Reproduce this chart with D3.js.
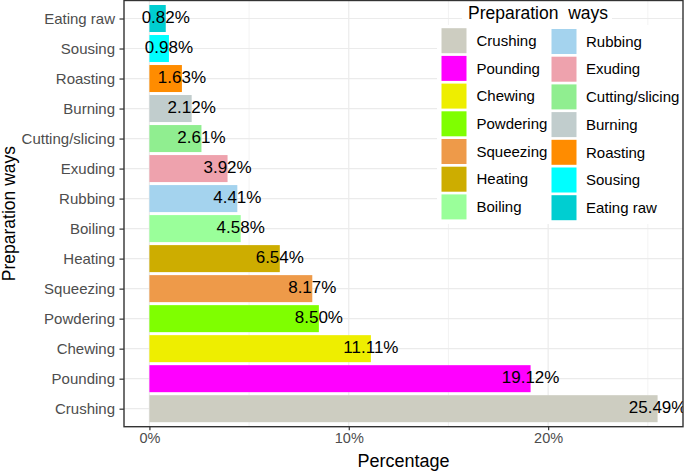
<!DOCTYPE html>
<html>
<head>
<meta charset="utf-8">
<script src="https://cdn.jsdelivr.net/npm/d3@7"></script>
<style>
  html, body { margin: 0; padding: 0; background: #fff; }
  svg { display: block; font-family: "Liberation Sans", Arial, sans-serif; }
</style>
</head>
<body>
<svg id="chart" width="685" height="473"></svg>
<script>
// Categories from top to bottom as displayed
const categories = ["Eating raw", "Sousing", "Roasting", "Burning", "Cutting/slicing", "Exuding", "Rubbing", "Boiling", "Heating", "Squeezing", "Powdering", "Chewing", "Pounding", "Crushing"];
const values = [0.82, 0.98, 1.63, 2.12, 2.61, 3.92, 4.41, 4.58, 6.54, 8.17, 8.50, 11.11, 19.12, 25.49];
const colors = ["#00CED1", "#00FFFF", "#FF8C00", "#C1CDCD", "#90EE90", "#EEA2AD", "#A4D3EE", "#9AFF9A", "#CDAD00", "#EE9A49", "#7FFF00", "#EEEE00", "#FF00FF", "#CDCDC1"];
// Legend order (two columns)
const legendOrder = ["Crushing", "Pounding", "Chewing", "Powdering", "Squeezing", "Heating", "Boiling", "Rubbing", "Exuding", "Cutting/slicing", "Burning", "Roasting", "Sousing", "Eating raw"];
const xTickValues = [0, 10, 20];
const xMinorValues = [5, 15, 25];
const xTitle = "Percentage";
const yTitle = "Preparation ways";
const legendTitle = "Preparation  ways";

const colorOf = d3.scaleOrdinal().domain(categories).range(colors);
const data = categories.map((c, i) => ({ cat: c, value: values[i] }));

const svg = d3.select("#chart");
const P = { left: 124, right: 683, top: 0.5, bottom: 426.7 };

const maxV = d3.max(values);
const ex = maxV * 0.05;
const x = d3.scaleLinear().domain([0 - ex, maxV + ex]).range([P.left, P.right]);
const y = d3.scalePoint().domain(categories).range([P.top, P.bottom]).padding(0.6);
const step = y.step();
const bh = step * 0.9;

// panel background
svg.append("rect").attr("x", P.left).attr("y", P.top).attr("width", P.right - P.left).attr("height", P.bottom - P.top).attr("fill", "#fff");

svg.append("defs").append("clipPath").attr("id", "panelClip")
  .append("rect").attr("x", P.left).attr("y", P.top).attr("width", P.right - P.left).attr("height", P.bottom - P.top);

const grid = svg.append("g");
// minor vertical
grid.selectAll("line.minor").data(xMinorValues).join("line")
  .attr("x1", d => x(d)).attr("x2", d => x(d)).attr("y1", P.top).attr("y2", P.bottom)
  .attr("stroke", "#EBEBEB").attr("stroke-width", 0.6);
// major vertical
grid.selectAll("line.majx").data(xTickValues).join("line")
  .attr("x1", d => x(d)).attr("x2", d => x(d)).attr("y1", P.top).attr("y2", P.bottom)
  .attr("stroke", "#EBEBEB").attr("stroke-width", 1.2);
// major horizontal
grid.selectAll("line.majy").data(categories).join("line")
  .attr("x1", P.left).attr("x2", P.right).attr("y1", d => y(d)).attr("y2", d => y(d))
  .attr("stroke", "#EBEBEB").attr("stroke-width", 1.2);

const plot = svg.append("g").attr("clip-path", "url(#panelClip)");
plot.selectAll("rect.bar").data(data).join("rect")
  .attr("x", x(0)).attr("y", d => y(d.cat) - bh / 2)
  .attr("width", d => x(d.value) - x(0)).attr("height", bh)
  .attr("fill", d => colorOf(d.cat));

plot.selectAll("text.lab").data(data).join("text")
  .attr("x", d => x(d.value)).attr("y", d => y(d.cat) + 4)
  .attr("text-anchor", "middle").attr("font-size", "17px").attr("fill", "#000")
  .text(d => d.value.toFixed(2) + "%");

// Legend
const lg = svg.append("g");
lg.append("rect").attr("x", 462).attr("y", 1).attr("width", 150).attr("height", 25).attr("fill", "#fff");
lg.append("rect").attr("x", 437).attr("y", 25).attr("width", P.right - 437).attr("height", 199).attr("fill", "#fff");
lg.append("text").attr("x", 468).attr("y", 19).attr("font-size", "17.5px").attr("fill", "#000")
  .style("white-space", "pre").attr("xml:space", "preserve").text(legendTitle);
const keyW = 25, keyH = 25, rowH = 27.7;
const colX = [441.5, 551.5];
const labX = [476.5, 586];
legendOrder.forEach((c, i) => {
  const col = Math.floor(i / 7), row = i % 7;
  const cy = 40.7 + row * rowH + col * 0.8;
  lg.append("rect").attr("x", colX[col]).attr("y", cy - keyH / 2).attr("width", keyW).attr("height", keyH)
    .attr("fill", colorOf(c));
  lg.append("text").attr("x", labX[col]).attr("y", cy + 5.2).attr("font-size", "15px").attr("fill", "#000").text(c);
});

// Axes
const xAxis = svg.append("g").attr("transform", `translate(0,${P.bottom})`)
  .call(d3.axisBottom(x).tickValues(xTickValues).tickFormat(d => d + "%").tickSize(3.5).tickPadding(3));
xAxis.select(".domain").remove();
xAxis.selectAll(".tick line").attr("stroke", "#333").attr("stroke-width", 1.2);
xAxis.selectAll(".tick text").attr("font-size", "14.5px").attr("fill", "#4D4D4D").attr("font-family", "Liberation Sans, Arial, sans-serif");

const yAxis = svg.append("g").attr("transform", `translate(${P.left},0)`)
  .call(d3.axisLeft(y).tickSize(4.5).tickPadding(4.5));
yAxis.select(".domain").remove();
yAxis.selectAll(".tick line").attr("stroke", "#333").attr("stroke-width", 1.2);
yAxis.selectAll(".tick text").attr("font-size", "15px").attr("fill", "#4D4D4D").attr("font-family", "Liberation Sans, Arial, sans-serif");

// Panel border
svg.append("rect").attr("x", P.left).attr("y", P.top).attr("width", P.right - P.left).attr("height", P.bottom - P.top)
  .attr("fill", "none").attr("stroke", "#333").attr("stroke-width", 1.4);

// Titles
svg.append("text").attr("x", (P.left + P.right) / 2).attr("y", 467).attr("text-anchor", "middle")
  .attr("font-size", "18px").attr("fill", "#000").text(xTitle);
svg.append("text").attr("transform", `translate(15,${(P.top + P.bottom) / 2}) rotate(-90)`).attr("text-anchor", "middle")
  .attr("font-size", "17.5px").attr("fill", "#000").text(yTitle);
</script>
</body>
</html>
